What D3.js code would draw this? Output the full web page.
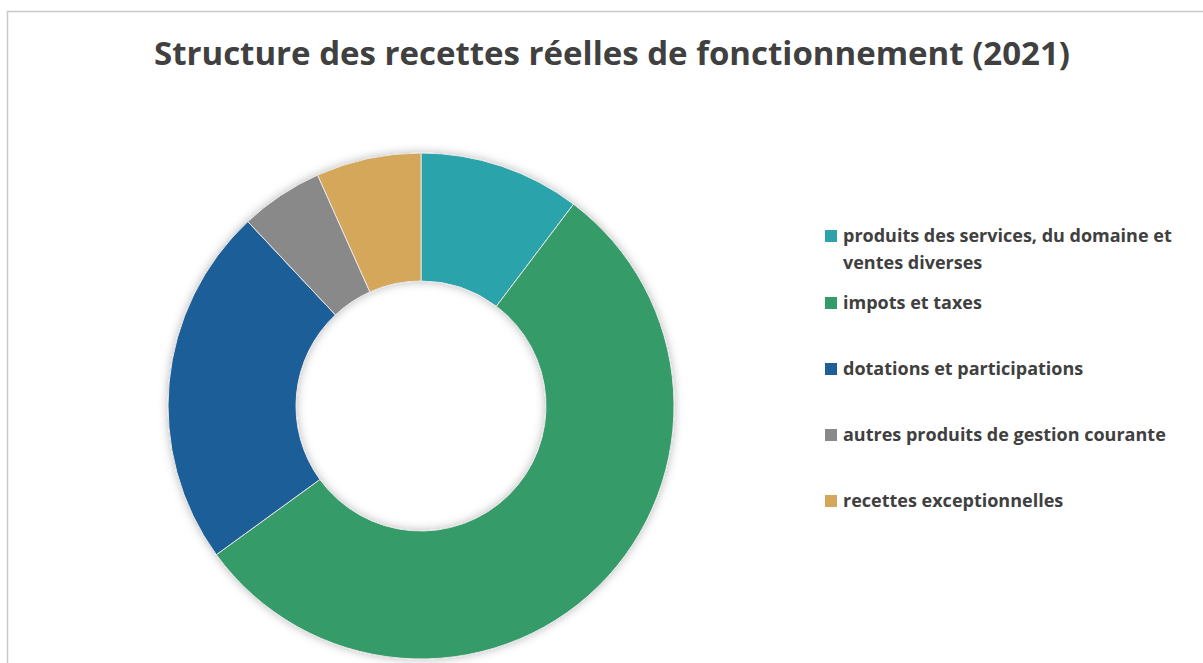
<!DOCTYPE html>
<html>
<head>
<meta charset="utf-8">
<script src="https://cdn.jsdelivr.net/npm/d3@7"></script>
<style>
  body { margin: 0; background: #fff; }
  svg { display: block; }
</style>
</head>
<body>
<div id="chart"></div>
<script>
// Data (share of total, %)
var categories = [
  'produits des services, du domaine et ventes diverses',
  'impots et taxes',
  'dotations et participations',
  'autres produits de gestion courante',
  'recettes exceptionnelles'
];
var values = [10.3, 54.7, 23.0, 5.3, 6.7];
var colors = ['#2ca3ab', '#349b68', '#1f5e98', '#898989', '#d4a75a'];
// legend lines (the first label wraps on two lines)
var legendLines = [
  ['produits des services, du domaine et', 'ventes diverses'],
  ['impots et taxes'],
  ['dotations et participations'],
  ['autres produits de gestion courante'],
  ['recettes exceptionnelles']
];
var title = 'Structure des recettes réelles de fonctionnement (2021)';

var width = 1203, height = 663;
var cx = 421, cy = 406, outerR = 253, innerR = 125;

var svg = d3.select('#chart')
  .append('svg')
    .attr('width', width)
    .attr('height', height);

// soft shadow like the spreadsheet one
var defs = svg.append('defs');
defs.append('filter')
    .attr('id', 'shadow')
    .attr('x', '-20%').attr('y', '-20%')
    .attr('width', '140%').attr('height', '140%')
  .append('feDropShadow')
    .attr('dx', 0).attr('dy', 0)
    .attr('stdDeviation', 5)
    .attr('flood-color', '#000')
    .attr('flood-opacity', 0.28);

// chart area border (left and top visible)
svg.append('path')
  .attr('d', 'M7.5,' + height + 'V11.5H' + width)
  .attr('fill', 'none')
  .attr('stroke', '#c9c9c9')
  .attr('stroke-width', 1.5);

// title
svg.append('text')
  .attr('x', 612)
  .attr('y', 65)
  .attr('text-anchor', 'middle')
  .style('font-family', '"Open Sans", sans-serif')
  .style('font-weight', 'bold')
  .style('font-size', '33px')
  .style('fill', '#404040')
  .text(title);

var color = d3.scaleOrdinal()
  .domain(categories)
  .range(colors);

var pie = d3.pie()
  .value(function(d, i) { return values[i]; })
  .sort(null);

var arc = d3.arc()
  .innerRadius(innerR)
  .outerRadius(outerR);

var donut = svg.append('g')
  .attr('transform', 'translate(' + cx + ',' + cy + ')')
  .attr('filter', 'url(#shadow)');

donut.selectAll('path')
  .data(pie(categories))
  .enter()
  .append('path')
    .attr('d', arc)
    .style('fill', function(d) { return color(d.data); })
    .style('stroke', '#e6e6e6')
    .style('stroke-width', 1);

// legend
var legendY = [242, 309, 375, 441, 507];
var legend = svg.append('g')
  .style('font-family', '"Open Sans", sans-serif')
  .style('font-weight', 'bold')
  .style('font-size', '18px')
  .style('fill', '#404040');

var items = legend.selectAll('g')
  .data(categories)
  .enter()
  .append('g')
    .attr('transform', function(d, i) { return 'translate(825,' + legendY[i] + ')'; });

items.append('rect')
  .attr('x', 0)
  .attr('y', -12)
  .attr('width', 12)
  .attr('height', 12)
  .style('fill', function(d) { return color(d); });

items.append('text')
  .attr('x', 18)
  .attr('y', 0)
  .each(function(d, i) {
    var t = d3.select(this);
    legendLines[i].forEach(function(line, j) {
      t.append('tspan')
        .attr('x', 18)
        .attr('y', j * 27)
        .text(line);
    });
  });
</script>
</body>
</html>
